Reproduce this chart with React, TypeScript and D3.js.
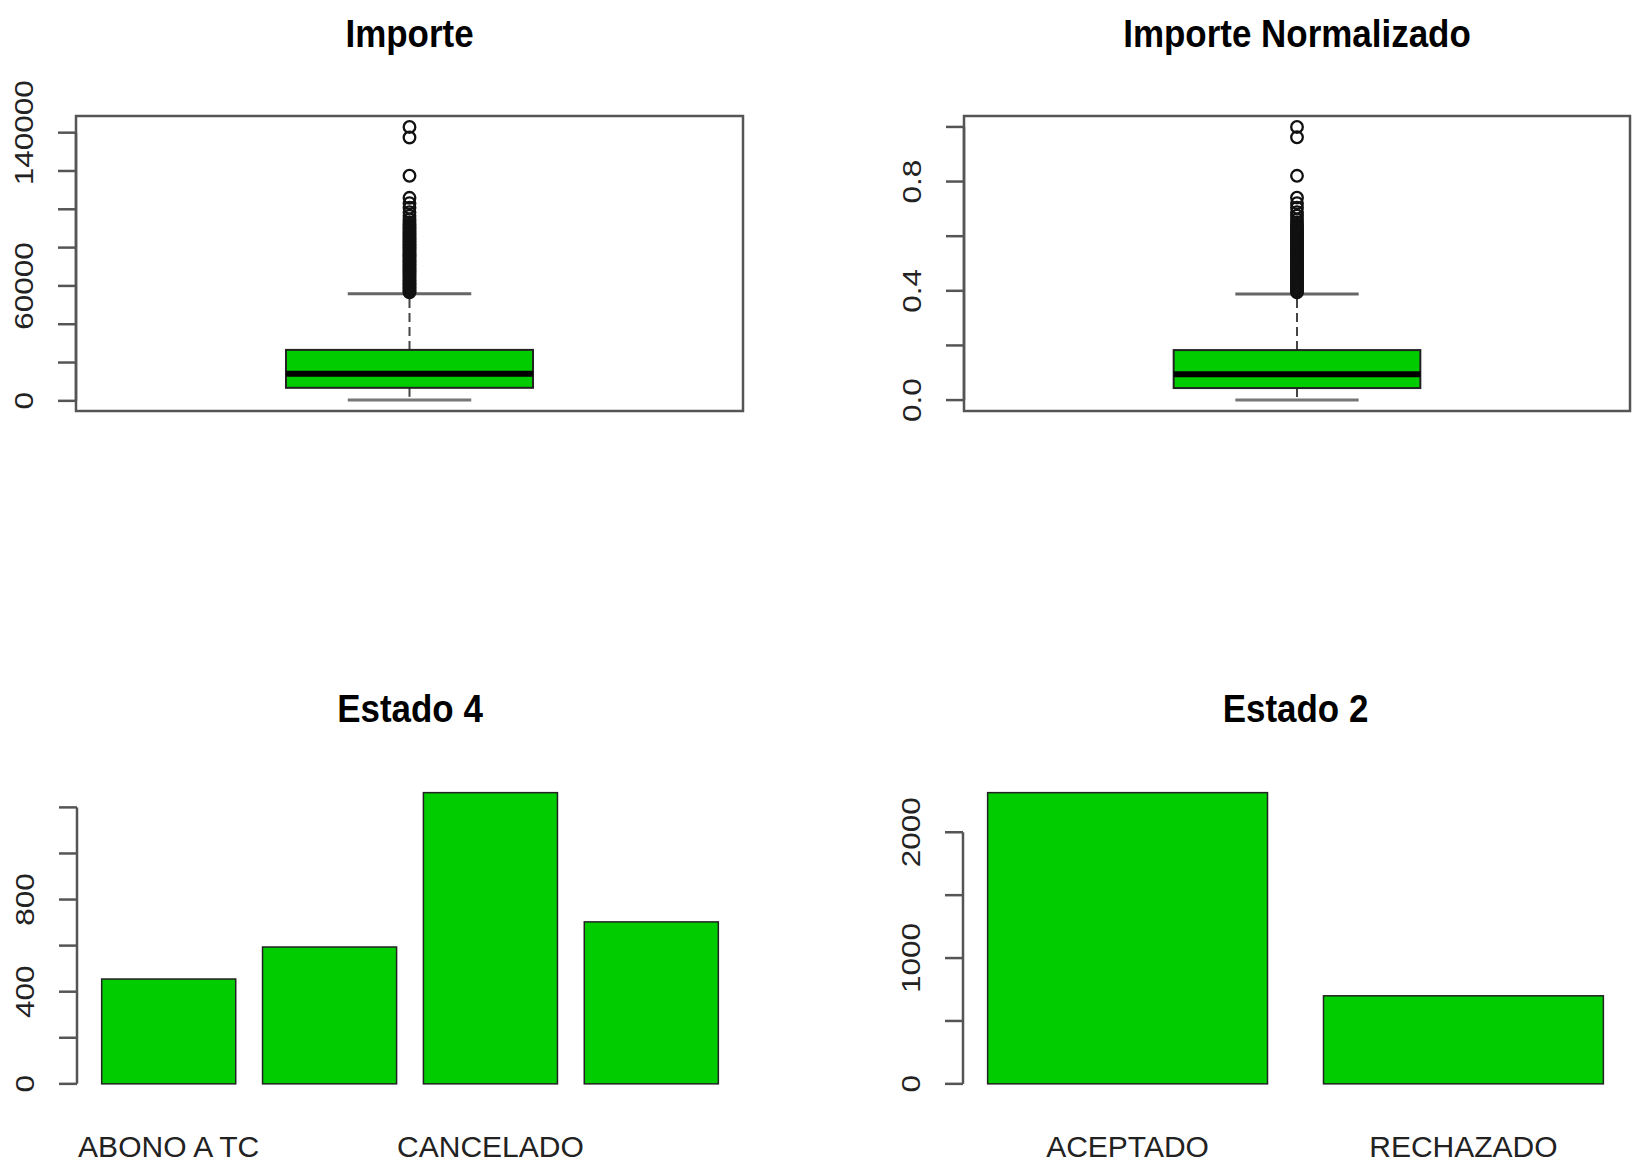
import React from "react";
import * as d3 from "d3";

// ---- data ----------------------------------------------------------------
// five-number summaries: lower whisker, Q1, median, Q3, upper whisker
const importeBox = [400, 6800, 14100, 26600, 55900];
const importeOutliers = [
  56600, 57400, 58200, 59000, 59800, 60600, 61400, 62200, 63000, 63800,
  64600, 65400, 66200, 67000, 67800, 68600, 69400, 70200, 71000, 71800,
  72600, 73400, 74200, 75000, 75800, 76600, 77400, 78200, 79000, 79800,
  80600, 81400, 82200, 83000, 83800, 84600, 85400, 86200, 87000, 87800,
  88600, 89400, 90200, 91000, 92000, 93200, 94700, 96600, 98500, 100800,
  103200, 106000, 117500, 137500, 143000,
];
const importeTicks = [0, 20000, 40000, 60000, 80000, 100000, 120000, 140000];
const importeTickLabels = [0, 60000, 140000];

const normBox = [0.0, 0.044, 0.095, 0.183, 0.388];
const normOutliers = [
  0.394, 0.4, 0.405, 0.411, 0.417, 0.422, 0.428, 0.433, 0.439, 0.445,
  0.45, 0.456, 0.461, 0.467, 0.473, 0.478, 0.484, 0.489, 0.495, 0.501,
  0.506, 0.512, 0.517, 0.523, 0.529, 0.534, 0.54, 0.545, 0.551, 0.557,
  0.562, 0.568, 0.573, 0.579, 0.585, 0.59, 0.596, 0.601, 0.607, 0.613,
  0.618, 0.624, 0.63, 0.635, 0.642, 0.651, 0.661, 0.675, 0.688, 0.704,
  0.721, 0.741, 0.821, 0.962, 1.0,
];
const normTicks = [0, 0.2, 0.4, 0.6, 0.8, 1.0];
const normTickLabels = [0, 0.4, 0.8];

const estado4Labels = ["ABONO A TC", "", "CANCELADO", ""];
const estado4Values = [455, 594, 1264, 703];
const estado4Ticks = [0, 200, 400, 600, 800, 1000, 1200];
const estado4TickLabels = [0, 400, 800];

const estado2Labels = ["ACEPTADO", "RECHAZADO"];
const estado2Values = [2315, 700];
const estado2Ticks = [0, 500, 1000, 1500, 2000];
const estado2TickLabels = [0, 1000, 2000];

// ---- style ---------------------------------------------------------------
const FONT = "'Liberation Sans', Arial, Helvetica, sans-serif";
const GREEN = "#00CC00";
const AXIS = "#555";

type Frame = { left: number; right: number; top: number; bottom: number; titleY: number };

function YAxis({ x, scale, ticks, labels, fmt }: {
  x: number;
  scale: d3.ScaleLinear<number, number>;
  ticks: number[];
  labels: number[];
  fmt: (v: number) => string;
}) {
  const y0 = scale(ticks[0]);
  const y1 = scale(ticks[ticks.length - 1]);
  return (
    <g>
      <line x1={x} x2={x} y1={y0} y2={y1} stroke={AXIS} strokeWidth={2.5} />
      {ticks.map((t) => (
        <line key={t} x1={x - 18} x2={x} y1={scale(t)} y2={scale(t)} stroke={AXIS} strokeWidth={2.5} />
      ))}
      {labels.map((t) => (
        <text
          key={t}
          transform={`translate(${x - 43},${scale(t)}) rotate(-90) scale(1.26,1)`}
          textAnchor="middle"
          fontFamily={FONT}
          fontSize={25}
          fill="#222"
        >
          {fmt(t)}
        </text>
      ))}
    </g>
  );
}

function Title({ text, frame }: { text: string; frame: Frame }) {
  const cx = (frame.left + frame.right) / 2;
  return (
    <text
      transform={`translate(${cx},${frame.titleY}) scale(0.92,1)`}
      textAnchor="middle"
      fontFamily={FONT}
      fontWeight="bold"
      fontSize={38}
      fill="#000"
    >
      {text}
    </text>
  );
}

function BoxPanel({ title, stats, outliers, ticks, labels, fmt, frame }: {
  title: string;
  stats: number[];
  outliers: number[];
  ticks: number[];
  labels: number[];
  fmt: (v: number) => string;
  frame: Frame;
}) {
  const [lo, hi] = d3.extent([...stats, ...outliers]) as [number, number];
  const pad = (hi - lo) * 0.04;
  const y = d3.scaleLinear().domain([lo - pad, hi + pad]).range([frame.bottom, frame.top]);
  const x = d3.scaleLinear().domain([0.46, 1.54]).range([frame.left, frame.right]);
  const [wLo, q1, med, q3, wHi] = stats;
  const cx = x(1);
  return (
    <g>
      <Title text={title} frame={frame} />
      {/* whiskers */}
      <line x1={cx} x2={cx} y1={y(q3)} y2={y(wHi)} stroke="#444" strokeWidth={2} strokeDasharray="9 5" />
      <line x1={cx} x2={cx} y1={y(q1)} y2={y(wLo)} stroke="#444" strokeWidth={2} strokeDasharray="9 5" />
      <line x1={x(0.9)} x2={x(1.1)} y1={y(wHi)} y2={y(wHi)} stroke="#666" strokeWidth={3} />
      <line x1={x(0.9)} x2={x(1.1)} y1={y(wLo)} y2={y(wLo)} stroke="#777" strokeWidth={3} />
      {/* box */}
      <rect
        x={x(0.8)}
        y={y(q3)}
        width={x(1.2) - x(0.8)}
        height={y(q1) - y(q3)}
        fill={GREEN}
        stroke="#222"
        strokeWidth={2}
      />
      <line x1={x(0.8)} x2={x(1.2)} y1={y(med)} y2={y(med)} stroke="#000" strokeWidth={6} />
      {/* outliers */}
      {outliers.map((v, i) => (
        <circle key={i} cx={cx} cy={y(v)} r={5.8} fill="none" stroke="#111" strokeWidth={2.3} />
      ))}
      {/* frame and axis */}
      <rect
        x={frame.left}
        y={frame.top}
        width={frame.right - frame.left}
        height={frame.bottom - frame.top}
        fill="none"
        stroke={AXIS}
        strokeWidth={2.5}
      />
      <YAxis x={frame.left} scale={y} ticks={ticks} labels={labels} fmt={fmt} />
    </g>
  );
}

function BarPanel({ title, labels, values, ticks, tickLabels, frame, labelY }: {
  title: string;
  labels: string[];
  values: number[];
  ticks: number[];
  tickLabels: number[];
  frame: Frame;
  labelY: number;
}) {
  const n = values.length;
  const space = 0.2;
  const xMin = space;
  const xMax = n * (1 + space);
  const xPad = (xMax - xMin) * 0.04;
  const x = d3.scaleLinear().domain([xMin - xPad, xMax + xPad]).range([frame.left, frame.right]);
  const vMax = d3.max(values) as number;
  const yPad = vMax * 0.04;
  const y = d3.scaleLinear().domain([-yPad, vMax + yPad]).range([frame.bottom, frame.top]);
  return (
    <g>
      <Title text={title} frame={frame} />
      {values.map((v, i) => {
        const l = space + i * (1 + space);
        return (
          <rect
            key={i}
            x={x(l)}
            y={y(v)}
            width={x(l + 1) - x(l)}
            height={y(0) - y(v)}
            fill={GREEN}
            stroke="#222"
            strokeWidth={1.5}
          />
        );
      })}
      {labels.map((s, i) =>
        s ? (
          <text
            key={i}
            x={x(space + i * (1 + space) + 0.5)}
            y={labelY}
            textAnchor="middle"
            fontFamily={FONT}
            fontSize={30}
            fill="#222"
          >
            {s}
          </text>
        ) : null
      )}
      <YAxis x={frame.left} scale={y} ticks={ticks} labels={tickLabels} fmt={(v) => String(v)} />
    </g>
  );
}

export default function App() {
  const tl: Frame = { left: 76, right: 743, top: 116, bottom: 411, titleY: 47 };
  const tr: Frame = { left: 964, right: 1630, top: 116, bottom: 411, titleY: 47 };
  const bl: Frame = { left: 77, right: 743, top: 781, bottom: 1095.5, titleY: 722 };
  const br: Frame = { left: 963, right: 1628, top: 781, bottom: 1095.5, titleY: 722 };
  return (
    <svg
      width={1642}
      height={1164}
      style={{ position: "absolute", left: 0, top: 0, background: "#fff" }}
    >
      <rect width={1642} height={1164} fill="#fff" />
      <BoxPanel
        title="Importe"
        stats={importeBox}
        outliers={importeOutliers}
        ticks={importeTicks}
        labels={importeTickLabels}
        fmt={(v) => String(v)}
        frame={tl}
      />
      <BoxPanel
        title="Importe Normalizado"
        stats={normBox}
        outliers={normOutliers}
        ticks={normTicks}
        labels={normTickLabels}
        fmt={(v) => d3.format(".1f")(v)}
        frame={tr}
      />
      <BarPanel
        title="Estado 4"
        labels={estado4Labels}
        values={estado4Values}
        ticks={estado4Ticks}
        tickLabels={estado4TickLabels}
        frame={bl}
        labelY={1157}
      />
      <BarPanel
        title="Estado 2"
        labels={estado2Labels}
        values={estado2Values}
        ticks={estado2Ticks}
        tickLabels={estado2TickLabels}
        frame={br}
        labelY={1157}
      />
    </svg>
  );
}
